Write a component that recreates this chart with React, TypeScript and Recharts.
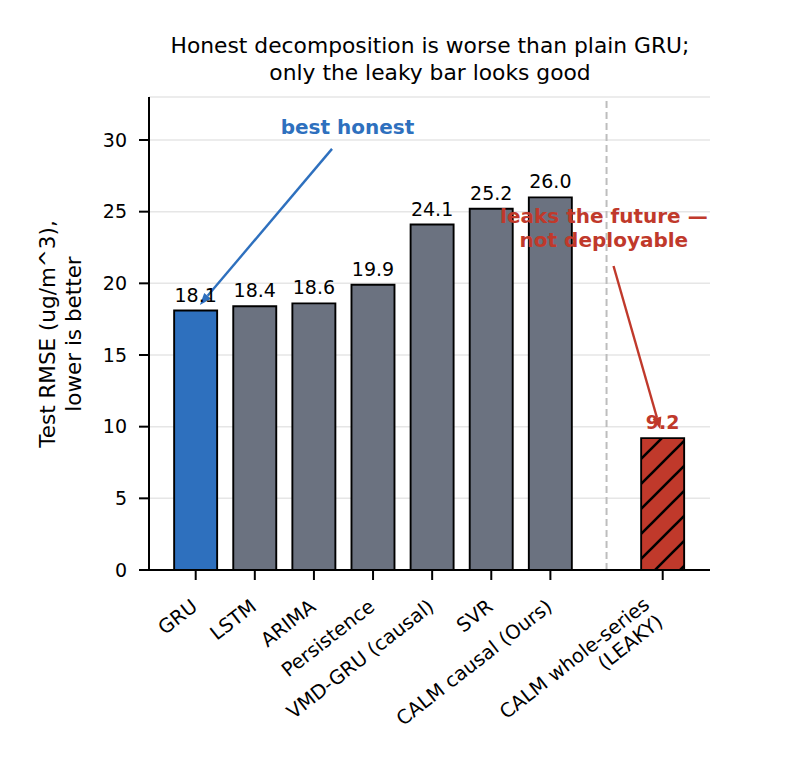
import { BarChart, Bar, Cell, XAxis, YAxis, CartesianGrid, ReferenceLine, ReferenceDot, LabelList } from 'recharts';

// Test RMSE per model; the leaky variant sits apart after a dashed divider.
const categories = ['GRU', 'LSTM', 'ARIMA', 'Persistence', 'VMD-GRU (causal)', 'SVR', 'CALM causal (Ours)', 'CALM whole-series\n(LEAKY)'];
const rmse = [18.1, 18.4, 18.6, 19.9, 24.1, 25.2, 26.0, 9.2];
const xPositions = [0, 1, 2, 3, 4, 5, 6, 7.9];
const yTicks = [0, 5, 10, 15, 20, 25, 30];
const dividerX = 6.95;

// annotation anchors in data units: [x, y]
const bestText = [2.568, 30.42];
const bestArrow = [[2.306, 29.38], [0.071, 18.49]];
const leakText = [6.905, 24.19];
const leakArrow = [[7.068, 21.21], [7.859, 9.82]];

const C = { blue: '#2e70be', gray: '#6b7280', red: '#c0392b', ink: '#000', grid: '#e6e6e6', divider: '#bdbdbd' };
const FONT = "'DejaVu Sans', sans-serif";

const rows = categories.map((name, i) => ({ name, x: xPositions[i], v: rmse[i] }));
const fills = ['blue', 'gray', 'gray', 'gray', 'gray', 'gray', 'gray', 'hatch'];

function XTick(props: any) {
  const { x, y, payload } = props;
  const i = xPositions.indexOf(payload.value);
  const lines = (categories[i] || '').split('\n');
  const multi = lines.length > 1;
  return (
    <g transform={`translate(${x + (multi ? -12 : 3)},${y + (multi ? 27 : 29)}) rotate(-38)`}>
      <text textAnchor="end" fontSize={19.5} fontFamily={FONT} fill={C.ink}>
        {lines.map((l, k) => (
          <tspan key={k} x={0} dy={k === 0 ? 0 : 22}>{l}</tspan>
        ))}
      </text>
    </g>
  );
}

function ValueLabel(props: any) {
  const { x, y, width, value, index } = props;
  const leaky = index === 7;
  return (
    <text x={x + width / 2} y={y - 9} textAnchor="middle" fontSize={19} fontFamily={FONT}
      fill={leaky ? C.red : C.ink} fontWeight={leaky ? 'bold' : 'normal'}>
      {Number(value).toFixed(1)}
    </text>
  );
}

const arrow = (color: string) => (p: any) => {
  const { x1, y1, x2, y2 } = p;
  const a = Math.atan2(y2 - y1, x2 - x1);
  const L = 12, w = 4.5;
  const bx = x2 - L * Math.cos(a), by = y2 - L * Math.sin(a);
  const pts = `${x2},${y2} ${bx - w * Math.sin(a)},${by + w * Math.cos(a)} ${bx + w * Math.sin(a)},${by - w * Math.cos(a)}`;
  return (
    <g>
      <line x1={x1} y1={y1} x2={bx} y2={by} stroke={color} strokeWidth={2.4} />
      <polygon points={pts} fill={color} />
    </g>
  );
};

export default function App() {
  return (
    <div style={{ position: 'absolute', left: 0, top: 0, width: 791, height: 779, background: '#fff' }}>
      <BarChart width={791} height={779} data={rows} margin={{ top: 97, right: 81, bottom: 0, left: 0 }}>
        <defs>
          <pattern id="hatch" patternUnits="userSpaceOnUse" width={25} height={25}>
            <rect width={25} height={25} fill={C.red} />
            <path d="M0,25 L25,0 M-6,6 L6,-6 M19,31 L31,19" stroke={C.ink} strokeWidth={2.6} />
          </pattern>
        </defs>
        <text x={430} y={53.3} textAnchor="middle" fontSize={21.8} fontFamily={FONT} fill={C.ink}>
          Honest decomposition is worse than plain GRU;
        </text>
        <text x={430} y={80} textAnchor="middle" fontSize={21.8} fontFamily={FONT} fill={C.ink}>
          only the leaky bar looks good
        </text>
        <text transform="translate(55,334) rotate(-90)" textAnchor="middle" fontSize={21.5} fontFamily={FONT} fill={C.ink}>
          Test RMSE (ug/m^3),
        </text>
        <text transform="translate(81,334) rotate(-90)" textAnchor="middle" fontSize={21.5} fontFamily={FONT} fill={C.ink}>
          lower is better
        </text>
        <CartesianGrid vertical={false} stroke={C.grid} strokeWidth={1.5} />
        <XAxis dataKey="x" type="number" domain={[-0.79, 8.7]} ticks={xPositions} interval={0} allowDataOverflow
          height={209} tickSize={10} tickMargin={0} tick={<XTick />}
          axisLine={{ stroke: C.ink, strokeWidth: 2 }} tickLine={{ stroke: C.ink, strokeWidth: 2 }} />
        <YAxis type="number" domain={[0, 33]} ticks={yTicks} interval={0} allowDataOverflow width={149}
          tickSize={10} tickMargin={12} tick={{ fill: C.ink, fontSize: 19, fontFamily: FONT }}
          axisLine={{ stroke: C.ink, strokeWidth: 2 }} tickLine={{ stroke: C.ink, strokeWidth: 2 }} />
        <ReferenceLine x={dividerX} stroke={C.divider} strokeWidth={2} strokeDasharray="7 4" />
        <Bar dataKey="v" barSize={43} stroke={C.ink} strokeWidth={1.9} isAnimationActive={false}>
          {rows.map((r, i) => (
            <Cell key={r.name} fill={fills[i] === 'hatch' ? 'url(#hatch)' : C[fills[i] as 'blue' | 'gray']} />
          ))}
          <LabelList dataKey="v" content={<ValueLabel />} />
        </Bar>
        <ReferenceLine segment={[{ x: bestArrow[0][0], y: bestArrow[0][1] }, { x: bestArrow[1][0], y: bestArrow[1][1] }]}
          shape={arrow(C.blue)} />
        <ReferenceLine segment={[{ x: leakArrow[0][0], y: leakArrow[0][1] }, { x: leakArrow[1][0], y: leakArrow[1][1] }]}
          shape={arrow(C.red)} />
        <ReferenceDot x={bestText[0]} y={bestText[1]} r={0} stroke="none" fill="none"
          label={(p: any) => (
            <text x={p.viewBox.x} y={p.viewBox.y} textAnchor="middle" fontSize={20} fontWeight="bold" fontFamily={FONT} fill={C.blue}>
              best honest
            </text>
          )} />
        <ReferenceDot x={leakText[0]} y={leakText[1]} r={0} stroke="none" fill="none"
          label={(p: any) => (
            <text x={p.viewBox.x} y={p.viewBox.y} textAnchor="middle" fontSize={20} fontWeight="bold" fontFamily={FONT} fill={C.red}>
              <tspan x={p.viewBox.x} dy={0}>leaks the future —</tspan>
              <tspan x={p.viewBox.x} dy={23.4}>not deployable</tspan>
            </text>
          )} />
      </BarChart>
    </div>
  );
}
